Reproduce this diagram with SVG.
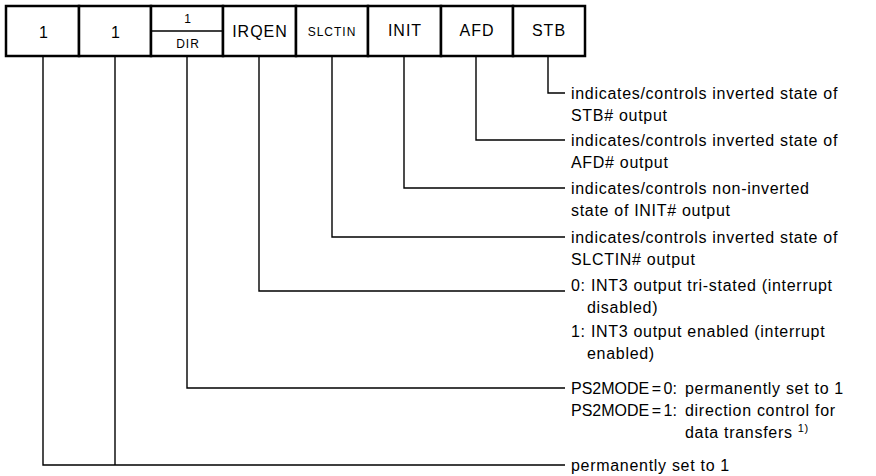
<svg xmlns="http://www.w3.org/2000/svg" width="876" height="476" viewBox="0 0 876 476">
<style>
.cell{fill:#fff;stroke:#000;stroke-width:2.5}
.lbl{font-family:"Liberation Sans",Arial,sans-serif;font-size:16px;letter-spacing:1px;fill:#000;text-anchor:middle;dominant-baseline:central}
.sm{font-size:12px;letter-spacing:1px}
.txt{font-family:"Liberation Sans",Arial,sans-serif;font-size:16px;letter-spacing:0.7px;fill:#000;dominant-baseline:central}
.ps{letter-spacing:0;word-spacing:-2px}
.ln{fill:none;stroke:#000;stroke-width:1.4}
</style>
<rect width="876" height="476" fill="#fff"/>
<g id="bit7"><rect class="cell" x="6" y="6" width="73" height="50"/><text class="lbl" x="44" y="32">1</text></g>
<g id="bit6"><rect class="cell" x="79" y="6" width="72" height="50"/><text class="lbl" x="116" y="32">1</text></g>
<g id="bit5"><rect class="cell" x="151" y="6" width="72" height="50"/><line x1="151" y1="31" x2="223" y2="31" stroke="#000" stroke-width="1.5"/><text class="lbl sm" x="188" y="19">1</text><text class="lbl sm" x="188" y="44">DIR</text></g>
<g id="bit4"><rect class="cell" x="223" y="6" width="73" height="50"/><text class="lbl" x="260" y="31">IRQEN</text></g>
<g id="bit3"><rect class="cell" x="296" y="6" width="72" height="50"/><text class="lbl sm" x="332" y="32">SLCTIN</text></g>
<g id="bit2"><rect class="cell" x="368" y="6" width="73" height="50"/><text class="lbl" x="405" y="30">INIT</text></g>
<g id="bit1"><rect class="cell" x="441" y="6" width="72" height="50"/><text class="lbl" x="477" y="30">AFD</text></g>
<g id="bit0"><rect class="cell" x="513" y="6" width="72" height="50"/><text class="lbl" x="549" y="30">STB</text></g>
<g id="connectors">
<polyline class="ln" points="548,56 548,93 565,93"/>
<polyline class="ln" points="476,56 476,140 565,140"/>
<polyline class="ln" points="404,56 404,188 565,188"/>
<polyline class="ln" points="332,56 332,237 565,237"/>
<polyline class="ln" points="259,56 259,291 565,291"/>
<polyline class="ln" points="187,56 187,388 565,388"/>
<polyline class="ln" points="115,56 115,465"/>
<polyline class="ln" points="43,56 43,465 565,465"/>
</g>
<g id="desc">
<text class="txt" x="571" y="93">indicates/controls inverted state of</text>
<text class="txt" x="571" y="115">STB# output</text>
<text class="txt" x="571" y="140">indicates/controls inverted state of</text>
<text class="txt" x="571" y="162">AFD# output</text>
<text class="txt" x="571" y="188">indicates/controls non-inverted</text>
<text class="txt" x="571" y="210">state of INIT# output</text>
<text class="txt" x="571" y="237">indicates/controls inverted state of</text>
<text class="txt" x="571" y="259">SLCTIN# output</text>
<text class="txt" x="571" y="285">0: INT3 output tri-stated (interrupt</text>
<text class="txt" x="587" y="307">disabled)</text>
<text class="txt" x="571" y="331">1: INT3 output enabled (interrupt</text>
<text class="txt" x="587" y="353">enabled)</text>
<text class="txt ps" x="571" y="388">PS2MODE = 0:</text>
<text class="txt" x="685" y="388">permanently set to 1</text>
<text class="txt ps" x="571" y="410">PS2MODE = 1:</text>
<text class="txt" x="685" y="410">direction control for</text>
<text class="txt" x="685" y="432">data transfers <tspan font-size="11" dy="-4">1)</tspan></text>
<text class="txt" x="571" y="465">permanently set to 1</text>
</g>
</svg>
